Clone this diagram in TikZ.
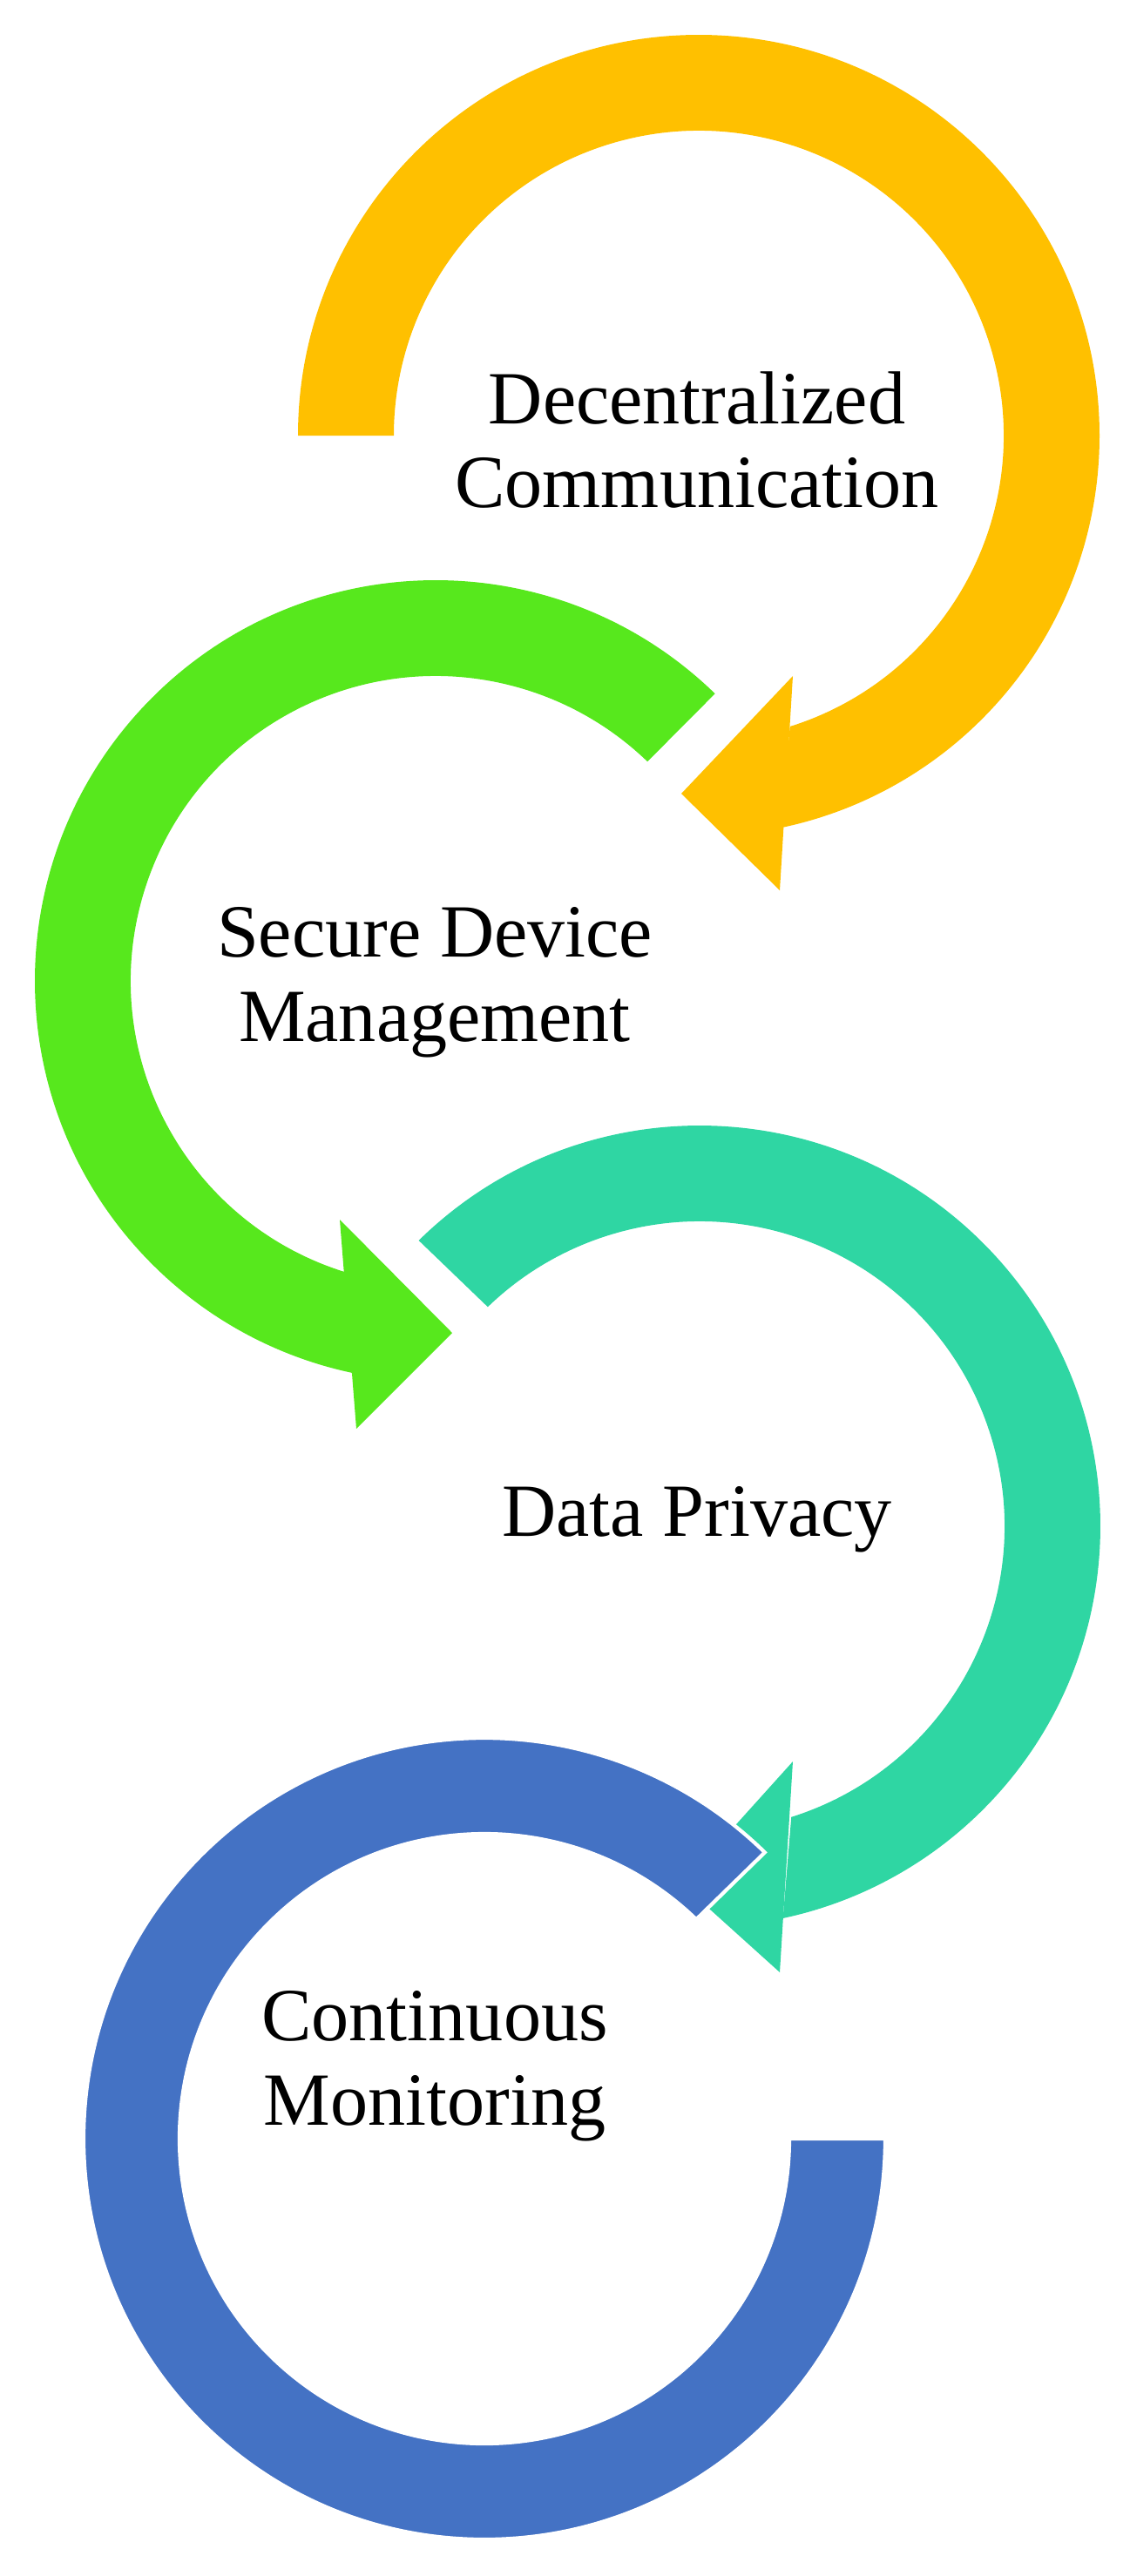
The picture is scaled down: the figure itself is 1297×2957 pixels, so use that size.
\documentclass[tikz,border=0pt]{standalone}
\usepackage{fontspec}
\setmainfont{Liberation Serif}
\usetikzlibrary{calc}
\definecolor{cOr}{HTML}{FFC000}
\definecolor{cGr}{HTML}{57E81D}
\definecolor{cTe}{HTML}{2FD6A3}
\definecolor{cBl}{HTML}{4472C4}
\tikzset{lbl/.style={align=center,font=\fontsize{24.5}{27.5}\selectfont,inner sep=0pt}}
\begin{document}
\begin{tikzpicture}[x=0.01cm,y=0.01cm]
\useasboundingbox (0,0) rectangle (1297,-2957);
% orange
\coordinate (c1) at (802,-500);
\fill[cOr] ($(c1)+(180:460)$) arc[start angle=180,end angle=-78.2,radius=460] -- ($(c1)+(-72.6:350)$) arc[start angle=-72.6,end angle=180,radius=350] -- cycle;
\fill[cOr] (910,-776) -- (782,-911) -- (895,-1022) -- cycle;
% green
\coordinate (c2) at (500,-1126);
\fill[cGr] ($(c2)+(45.8:460)$) arc[start angle=45.8,end angle=258.1,radius=460] -- ($(c2)+(252.6:350)$) arc[start angle=252.6,end angle=46,radius=350] -- cycle;
\fill[cGr] (390,-1400) -- (519,-1530) -- (409,-1640) -- cycle;
% teal
\coordinate (c3) at (803,-1752);
\fill[cTe] ($(c3)+(134.5:460)$) arc[start angle=134.5,end angle=-78,radius=460] -- ($(c3)+(-72.5:350)$) arc[start angle=-72.5,end angle=134,radius=350] -- cycle;
\fill[cTe] (910,-2022) -- (783,-2163) -- (895,-2264) -- cycle;
% blue
\coordinate (c4) at (556,-2455);
\filldraw[fill=cBl,draw=white,line width=1.2pt] ($(c4)+(0:460)$) arc[start angle=0,end angle=-314.4,radius=460] -- ($(c4)+(-314:350)$) arc[start angle=-314,end angle=0,radius=350] -- cycle;
% labels
\node[lbl] (t1) at (800,-505) {Decentralized\\Communication};
\node[lbl] (t2) at (499,-1128) {Secure Device\\Management};
\node[lbl] (t3) at (800,-1744) {Data Privacy};
\node[lbl] (t4) at (499,-2372) {Continuous\\Monitoring};
\end{tikzpicture}
\end{document}
